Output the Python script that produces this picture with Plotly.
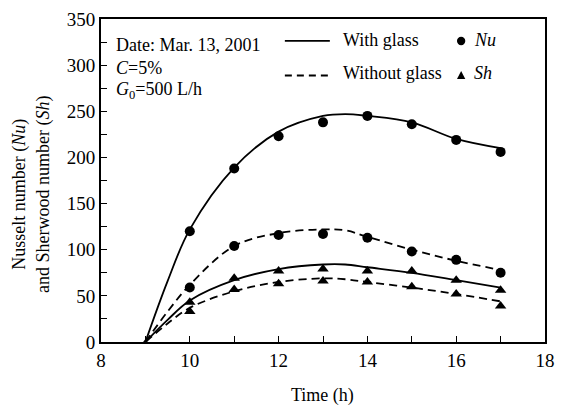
import plotly.graph_objects as go

# ---- data ----
hours = [10, 11, 12, 13, 14, 15, 16, 17]
nu_with = [120, 188, 223, 238, 245, 236, 219, 206]
nu_without = [59, 104, 116, 117, 113, 98, 89, 75]
sh_with = [43, 69, 77, 79, 77, 77, 67, 56]
sh_without = [33, 57, 63, 66, 65, 60, 52, 39]

curve_hours = [9, 9.5, 10, 11, 12, 13, 13.5, 14, 15, 16, 17]
nu_with_curve = [0, 66, 122, 189, 228, 245, 247, 245, 238, 220, 210]
nu_without_curve = [0, 33, 62, 104, 118, 122, 121, 114, 100, 88, 78]
sh_with_curve = [0, 24, 45, 67, 79, 84, 84, 81, 75, 67, 59]
sh_without_curve = [0, 20, 37, 55, 65, 69, 68, 65, 59, 52, 44]

origin_x = [9]
origin_y = [0]

x_ticks = [8, 10, 12, 14, 16, 18]
y_ticks = [0, 50, 100, 150, 200, 250, 300, 350]

FONT = "Liberation Serif"
BLACK = "#000000"
DASH = "8px,5px"

fig = go.Figure()

for ys, dash in [(nu_with_curve, "solid"), (nu_without_curve, DASH),
                 (sh_with_curve, "solid"), (sh_without_curve, DASH)]:
    fig.add_trace(go.Scatter(x=curve_hours, y=ys, mode="lines",
                             line=dict(color=BLACK, width=1.8, dash=dash, shape="spline", smoothing=1.0),
                             showlegend=False, hoverinfo="skip"))

for ys, sym in [(nu_with, "circle"), (nu_without, "circle"),
                (sh_with, "triangle-up"), (sh_without, "triangle-up")]:
    fig.add_trace(go.Scatter(x=hours, y=ys, mode="markers",
                             marker=dict(symbol=sym, size=10, color=BLACK),
                             showlegend=False))

fig.add_trace(go.Scatter(x=origin_x, y=origin_y, mode="markers",
                         marker=dict(symbol="triangle-up", size=6, color=BLACK),
                         showlegend=False, cliponaxis=False))

# pixel -> paper helpers
L, R, T, B = 101, 555, 16, 342
def px(x):
    return (x - L) / (R - L)
def py(y):
    return (B - y) / (B - T)

shapes = []
# legend line samples
shapes.append(dict(type="line", xref="paper", yref="paper", x0=px(289), x1=px(335), y0=py(38), y1=py(38),
                   line=dict(color=BLACK, width=1.8)))
shapes.append(dict(type="line", xref="paper", yref="paper", x0=px(289), x1=px(335), y0=py(73), y1=py(73),
                   line=dict(color=BLACK, width=1.8, dash="7px,5px")))
# legend circle
shapes.append(dict(type="circle", xref="paper", yref="paper",
                   x0=px(465), x1=px(473.5), y0=py(34), y1=py(42.5),
                   fillcolor=BLACK, line=dict(color=BLACK, width=0)))
# legend triangle
tx0, tx1, txm = px(465), px(473.5), px(469.25)
ty0, ty1 = py(76.5), py(68.5)
shapes.append(dict(type="path", xref="paper", yref="paper",
                   path=f"M {tx0} {ty0} L {tx1} {ty0} L {txm} {ty1} Z",
                   fillcolor=BLACK, line=dict(color=BLACK, width=0)))

annotations = [
    dict(text="With glass", x=px(346), y=py(37), xanchor="left", yanchor="middle"),
    dict(text="Without glass", x=px(346), y=py(71), xanchor="left", yanchor="middle"),
    dict(text="<i>Nu</i>", x=px(480), y=py(37), xanchor="left", yanchor="middle"),
    dict(text="<i>Sh</i>", x=px(480), y=py(71), xanchor="left", yanchor="middle"),
    dict(text="Date: Mar. 13, 2001", x=px(114), y=py(42), xanchor="left", yanchor="middle"),
    dict(text="<i>C</i>=5%", x=px(114), y=py(65), xanchor="left", yanchor="middle"),
    dict(text="<i>G</i><sub>0</sub>=500 L/h", x=px(114), y=py(88), xanchor="left", yanchor="middle"),
    dict(text="Nusselt number (<i>Nu</i>)<br>and Sherwood number (<i>Sh</i>)",
         x=px(30), y=py(193), xanchor="center", yanchor="middle", textangle=-90),
    dict(text="Time (h)", x=px(327), y=py(396), xanchor="center", yanchor="middle"),
]
for a in annotations:
    a.update(xref="paper", yref="paper", showarrow=False,
             font=dict(family=FONT, size=18, color=BLACK))

axis_common = dict(showline=True, linecolor=BLACK, linewidth=1.8, mirror=True,
                   ticks="inside", ticklen=6, tickwidth=1.3, tickcolor=BLACK,
                   showgrid=False, zeroline=False,
                   tickfont=dict(family=FONT, size=19, color=BLACK))

fig.update_layout(
    width=564, height=409,
    margin=dict(l=L, r=564 - R, t=T, b=409 - B),
    plot_bgcolor="white", paper_bgcolor="white",
    font=dict(family=FONT, color=BLACK),
    xaxis=dict(range=[8, 18], tickvals=x_ticks,
               minor=dict(dtick=1, ticks="inside", ticklen=6, tickwidth=1.3, tickcolor=BLACK),
               **axis_common),
    yaxis=dict(range=[0, 350], tickvals=y_ticks,
               minor=dict(dtick=25, ticks="inside", ticklen=6, tickwidth=1.3, tickcolor=BLACK),
               **axis_common),
    shapes=shapes,
    annotations=annotations,
    showlegend=False,
)

fig.write_html("out.html", config={"displayModeBar": False},
               post_script="document.body.style.margin='0';document.body.style.overflow='hidden';")
